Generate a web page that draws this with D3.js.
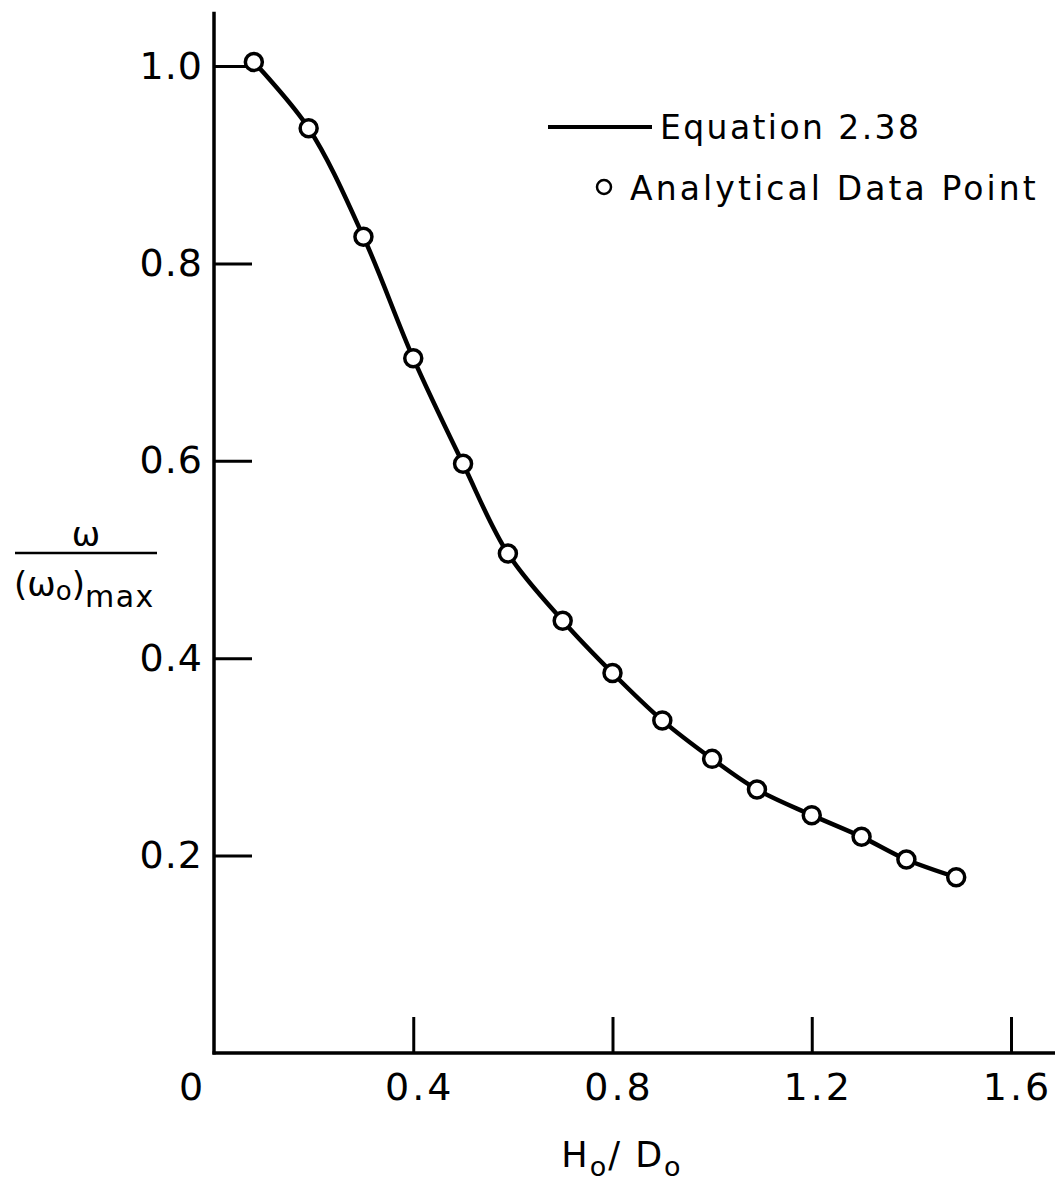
<!DOCTYPE html>
<html>
<head>
<meta charset="utf-8">
<script src="https://cdn.jsdelivr.net/npm/d3@7"></script>
<style>
	body { margin: 0; background: #fff; }
	text { font-family: "DejaVu Sans", sans-serif; fill: #000; }
</style>
</head>
<body>
<div id="chart1"></div>
<script>
// Data
var hoDo = [0.08, 0.19, 0.30, 0.40, 0.50, 0.59, 0.70, 0.80, 0.90, 1.00, 1.09, 1.20, 1.30, 1.39, 1.49];
var omegaRatio = [1.004, 0.937, 0.827, 0.704, 0.597, 0.506, 0.438, 0.385, 0.337, 0.298, 0.267, 0.241, 0.219, 0.196, 0.178];
var xTicks = [0, 0.4, 0.8, 1.2, 1.6];
var xTickLabels = ["0", "0.4", "0.8", "1.2", "1.6"];
var yTicks = [0.2, 0.4, 0.6, 0.8, 1.0];
var yTickLabels = ["0.2", "0.4", "0.6", "0.8", "1.0"];
var legendLabels = ["Equation 2.38", "Analytical Data Point"];

var cfg = {
	width : 1055,
	height : 1182,
	x0 : 214,
	x16 : 1011,
	y0 : 1053,
	y1 : 66,
	tickFont : 38
};

var dataset = hoDo.map(function(d, i){ return {x: d, y: omegaRatio[i]}; });

var xScale = d3.scaleLinear().domain([0, 1.6]).range([cfg.x0, cfg.x16]);
var yScale = d3.scaleLinear().domain([0, 1.0]).range([cfg.y0, cfg.y1]);

var svg1 = d3.select("#chart1").append("svg")
	.attr("width", cfg.width)
	.attr("height", cfg.height)
	;

// y axis, ticks pointing inward
var yAxis = svg1.append("g")
	.attr("transform", "translate(" + cfg.x0 + ",0)")
	.call(d3.axisLeft(yScale)
		.tickValues(yTicks)
		.tickFormat(function(d, i){ return yTickLabels[i]; })
		.tickSizeInner(-38)
		.tickSizeOuter(0)
		.tickPadding(11))
	;
yAxis.select(".domain").remove();
yAxis.selectAll("line").attr("stroke", "#000").attr("stroke-width", 3);
yAxis.selectAll("text").attr("font-size", cfg.tickFont).attr("font-family", "DejaVu Sans")
	.attr("letter-spacing", 1);

// x axis, ticks pointing up
var xAxis = svg1.append("g")
	.attr("transform", "translate(0," + cfg.y0 + ")")
	.call(d3.axisBottom(xScale)
		.tickValues(xTicks)
		.tickFormat(function(d, i){ return xTickLabels[i]; })
		.tickSizeInner(-36)
		.tickSizeOuter(0)
		.tickPadding(20))
	;
xAxis.select(".domain").remove();
xAxis.selectAll("line").attr("stroke", "#000").attr("stroke-width", 3)
	.attr("opacity", function(d){ return d === 0 ? 0 : 1; });
xAxis.selectAll("text").attr("font-size", cfg.tickFont).attr("font-family", "DejaVu Sans")
	.attr("letter-spacing", 3)
	.attr("dx", function(d){ return d === 0 ? -22 : 6; });

// axis lines
svg1.append("line")
	.attr("x1", xScale(0)).attr("x2", xScale(0))
	.attr("y1", yScale(1.055)).attr("y2", yScale(0) + 1.5)
	.attr("stroke", "#000").attr("stroke-width", 3.5)
	;
svg1.append("line")
	.attr("x1", xScale(0) - 1.5).attr("x2", cfg.width)
	.attr("y1", yScale(0)).attr("y2", yScale(0))
	.attr("stroke", "#000").attr("stroke-width", 3.5)
	;

// curve through the points
var line = d3.line()
	.x(function(d){ return xScale(d.x); })
	.y(function(d){ return yScale(d.y); })
	.curve(d3.curveCatmullRom.alpha(0.5))
	;
svg1.append("path")
	.datum(dataset)
	.attr("d", line)
	.attr("fill", "none")
	.attr("stroke", "#000")
	.attr("stroke-width", 4.5)
	;

svg1.selectAll("circle.pt")
	.data(dataset)
	.enter().append("circle")
	.attr("class", "pt")
	.attr("cx", function(d){ return xScale(d.x); })
	.attr("cy", function(d){ return yScale(d.y); })
	.attr("r", 8.5)
	.attr("fill", "#fff")
	.attr("stroke", "#000")
	.attr("stroke-width", 3.5)
	;

// legend
var legend = svg1.append("g");
legend.append("line")
	.attr("x1", 548).attr("x2", 652).attr("y1", 127).attr("y2", 127)
	.attr("stroke", "#000").attr("stroke-width", 4)
	;
legend.append("text")
	.attr("x", 660).attr("y", 139)
	.attr("font-size", 33)
	.attr("letter-spacing", 2.4)
	.text(legendLabels[0])
	;
legend.append("circle")
	.attr("cx", 604).attr("cy", 187).attr("r", 7)
	.attr("fill", "#fff").attr("stroke", "#000").attr("stroke-width", 2.5)
	;
legend.append("text")
	.attr("x", 630).attr("y", 200)
	.attr("font-size", 33)
	.attr("letter-spacing", 3.1)
	.text(legendLabels[1])
	;

// y label: omega / (omega_o)max
var yLab = svg1.append("g");
yLab.append("text")
	.attr("x", 86).attr("y", 546)
	.attr("text-anchor", "middle")
	.attr("font-size", 34)
	.text("ω")
	;
yLab.append("line")
	.attr("x1", 15).attr("x2", 157).attr("y1", 553).attr("y2", 553)
	.attr("stroke", "#000").attr("stroke-width", 2.5)
	;
var den = yLab.append("text")
	.attr("x", 14).attr("y", 596)
	.attr("font-size", 34)
	;
den.append("tspan").text("(ω");
den.append("tspan").attr("font-size", 26).attr("dy", 4).text("o");
den.append("tspan").attr("dy", -4).text(")");
den.append("tspan").attr("font-size", 30).attr("dy", 11).attr("letter-spacing", 1.5).text("max");

// x label: Ho / Do
var xLab = svg1.append("text")
	.attr("x", 622).attr("y", 1167)
	.attr("text-anchor", "middle")
	.attr("font-size", 35)
	.attr("letter-spacing", 2)
	;
xLab.append("tspan").text("H");
xLab.append("tspan").attr("font-size", 27).attr("dy", 9).text("o");
xLab.append("tspan").attr("dy", -9).text("/ D");
xLab.append("tspan").attr("font-size", 27).attr("dy", 9).text("o");
</script>
</body>
</html>
